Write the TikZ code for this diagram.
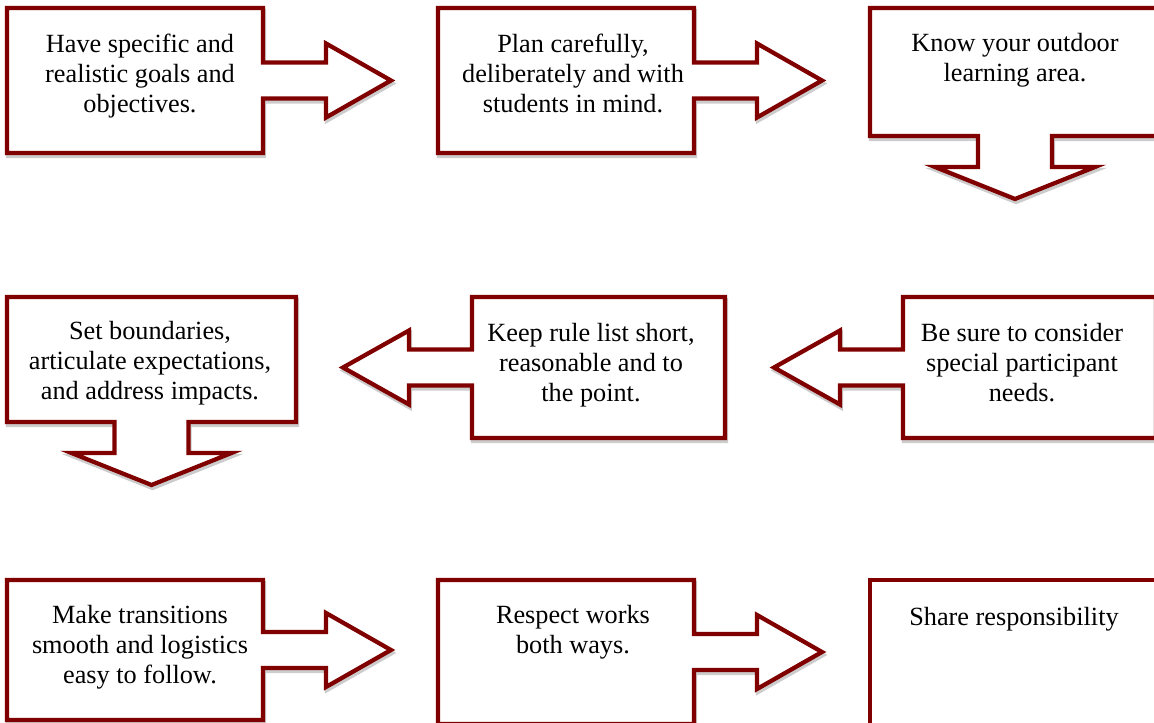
\documentclass[tikz,border=0pt]{standalone}
\usepackage{fontspec}
\setmainfont{Liberation Serif}
\usepackage{xcolor}
\usepackage{tikz}
\definecolor{calloutred}{RGB}{128,0,0}

\tikzset{
  boxline/.style={draw=calloutred, line width=3.2pt, fill=white, line join=miter},
  boxshadow/.style={draw=black!20, line width=3.2pt, shift={(1,3)}},
  boxtext/.style={anchor=base, align=center, inner sep=0pt, font=\fontsize{19.7}{22.5}\selectfont}
}

% callout outlines: left x, top y, right x, bottom y
\newcommand{\rightcallout}[4]{%
  \pgfmathsetmacro{\midy}{(#2+#4)/2}
  \foreach \look in {boxshadow, boxline}
    \draw[\look] (#1,#2) -- (#3,#2) -- (#3,\midy-18) -- (#3+63,\midy-18) -- (#3+63,\midy-37)
      -- (#3+128,\midy) -- (#3+63,\midy+37) -- (#3+63,\midy+18) -- (#3,\midy+18) -- (#3,#4) -- (#1,#4) -- cycle;
}
\newcommand{\leftcallout}[4]{%
  \pgfmathsetmacro{\midy}{(#2+#4)/2}
  \foreach \look in {boxshadow, boxline}
    \draw[\look] (#3,#2) -- (#1,#2) -- (#1,\midy-18) -- (#1-63,\midy-18) -- (#1-63,\midy-37)
      -- (#1-129,\midy) -- (#1-63,\midy+37) -- (#1-63,\midy+18) -- (#1,\midy+18) -- (#1,#4) -- (#3,#4) -- cycle;
}
\newcommand{\downcallout}[4]{%
  \pgfmathsetmacro{\midx}{(#1+#3)/2}
  \foreach \look in {boxshadow, boxline}
    \draw[\look] (#1,#2) -- (#3,#2) -- (#3,#4) -- (\midx+37,#4) -- (\midx+37,#4+31) -- (\midx+80,#4+31)
      -- (\midx,#4+63) -- (\midx-80,#4+31) -- (\midx-37,#4+31) -- (\midx-37,#4) -- (#1,#4) -- cycle;
}

\begin{document}
\begin{tikzpicture}[x=0.75pt, y=-0.75pt]
  \useasboundingbox (0,0) rectangle (1154,723);
  \clip (0,0) rectangle (1154,723);

  % first row (text placed by the baseline of its last line)
  \rightcallout{7}{8}{263}{153}
  \rightcallout{438}{8}{694}{153}
  \downcallout{870}{8}{1160}{136}
  \node[boxtext] (goals) at (140,113) {Have specific and\\realistic goals and\\objectives.};
  \node[boxtext] (plan) at (573,113) {Plan carefully,\\deliberately and with\\students in mind.};
  \node[boxtext] (area) at (1015,82) {Know your outdoor\\learning area.};

  % second row
  \downcallout{7}{297}{296}{422}
  \leftcallout{472}{297}{725}{438}
  \leftcallout{903}{297}{1156}{438}
  \node[boxtext] (limits) at (150,400) {Set boundaries,\\articulate expectations,\\and address impacts.};
  \node[boxtext] (rules) at (591,402) {Keep rule list short,\\reasonable and to\\the point.};
  \node[boxtext] (needs) at (1022,402) {Be sure to consider\\special participant\\needs.};

  % third row
  \rightcallout{7}{580}{263}{720}
  \rightcallout{438}{580}{694}{724}
  \foreach \look in {boxshadow, boxline}
    \draw[\look] (870,580) rectangle (1160,726);
  \node[boxtext] (moves) at (140,683) {Make transitions\\smooth and logistics\\easy to follow.};
  \node[boxtext] (respect) at (573,653) {Respect works\\both ways.};
  \node[boxtext] (share) at (1014,625) {Share responsibility};
\end{tikzpicture}
\end{document}
